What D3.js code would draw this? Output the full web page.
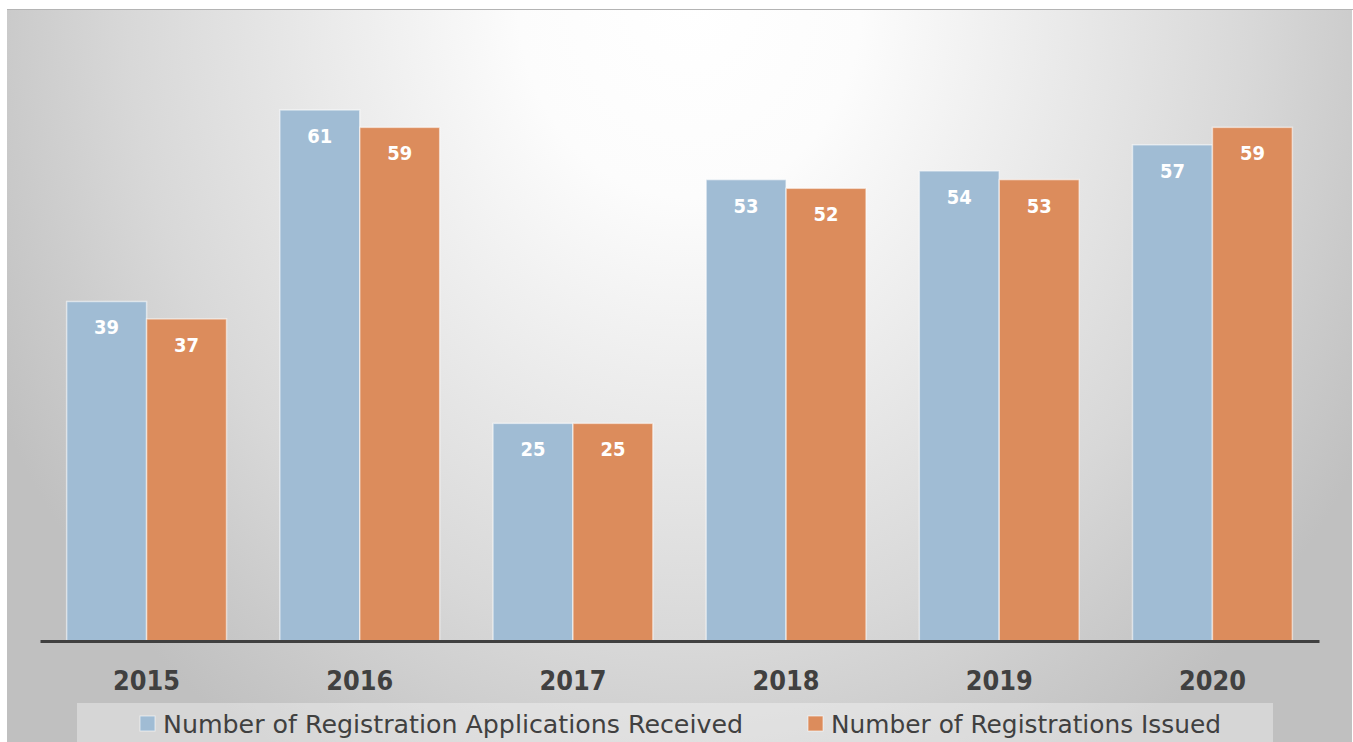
<!DOCTYPE html>
<html lang="en">
<head>
  <meta charset="utf-8">
  <title>Registrations</title>
  <script src="https://cdnjs.cloudflare.com/ajax/libs/d3/7.8.5/d3.min.js"></script>
  <style>
    body { margin: 0; background: #fff; }
    svg { display: block; }
  </style>
</head>
<body>
<div id="ChartArea"></div>
<script>
// data
const years = ["2015", "2016", "2017", "2018", "2019", "2020"];
const received = [39, 61, 25, 53, 54, 57];
const issued = [37, 59, 25, 52, 53, 59];
const seriesNames = ["Number of Registration Applications Received", "Number of Registrations Issued"];
const seriesColors = ["#a0bcd4", "#dc8c5c"];

const W = 1353, H = 742;
const svg = d3.select("#ChartArea").append("svg")
  .attr("width", W).attr("height", H);

// background panel with radial shading, light at the top middle
const defs = svg.append("defs");
const bg = defs.append("radialGradient")
  .attr("id", "bgGrad")
  .attr("gradientUnits", "userSpaceOnUse")
  .attr("cx", 690).attr("cy", 0).attr("r", 780)
  .attr("gradientTransform", "scale(1,1.15)");
[[0, "#ffffff"], [0.22, "#fcfcfc"], [0.5, "#e8e8e8"], [0.72, "#d8d8d8"], [0.88, "#cacaca"], [1, "#c0c0c0"]]
  .forEach(s => bg.append("stop").attr("offset", s[0]).attr("stop-color", s[1]));

svg.append("rect")
  .attr("x", 7).attr("y", 9).attr("width", W - 8).attr("height", H - 9)
  .attr("fill", "url(#bgGrad)");
svg.append("line")
  .attr("x1", 7).attr("x2", W).attr("y1", 9.5).attr("y2", 9.5)
  .attr("stroke", "#b4b4b4").attr("stroke-width", 1);

// scales
const x0 = d3.scaleBand()
  .domain(years)
  .range([40, 1319])
  .paddingInner(0.25)
  .paddingOuter(0.125);
const x1 = d3.scaleBand()
  .domain([0, 1])
  .range([0, x0.bandwidth()]);
const y = d3.scaleLinear()
  .domain([0, 70])
  .range([641, 31.6]);

const rows = years.map((yr, i) => ({ year: yr, vals: [received[i], issued[i]] }));

const groups = svg.selectAll(".grp")
  .data(rows)
  .enter().append("g")
  .attr("class", "grp")
  .attr("transform", d => "translate(" + x0(d.year) + ",0)");

groups.selectAll("rect")
  .data(d => d.vals.map((v, k) => ({ k: k, v: v })))
  .enter().append("rect")
  .attr("x", d => x1(d.k))
  .attr("y", d => y(d.v))
  .attr("width", x1.bandwidth())
  .attr("height", d => y(0) - y(d.v))
  .attr("fill", d => seriesColors[d.k])
  .attr("stroke", "rgba(255,255,255,0.55)")
  .attr("stroke-width", 1.5);

groups.selectAll("text")
  .data(d => d.vals.map((v, k) => ({ k: k, v: v })))
  .enter().append("text")
  .attr("x", d => x1(d.k) + x1.bandwidth() / 2)
  .attr("y", d => y(d.v) + 33)
  .attr("text-anchor", "middle")
  .attr("fill", "#ffffff")
  .attr("font-family", "'DejaVu Sans', sans-serif")
  .attr("font-weight", "bold")
  .attr("font-size", 20)
  .attr("textLength", 25)
  .attr("lengthAdjust", "spacingAndGlyphs")
  .text(d => d.v);

// x axis
const xAxis = svg.append("g")
  .attr("transform", "translate(0," + y(0) + ")")
  .call(d3.axisBottom(x0).tickSize(0).tickPadding(49));
xAxis.select(".domain")
  .attr("stroke", "#404040")
  .attr("stroke-width", 3);
xAxis.selectAll("text")
  .attr("fill", "#404040")
  .attr("font-family", "'DejaVu Sans', sans-serif")
  .attr("font-weight", "bold")
  .attr("font-size", 27)
  .attr("textLength", 67)
  .attr("lengthAdjust", "spacingAndGlyphs")
  .attr("dy", "0");

// legend
svg.append("rect")
  .attr("x", 77).attr("y", 703).attr("width", 1196).attr("height", 39)
  .attr("fill", "rgba(255,255,255,0.35)");

const legendX = [140, 808];
const leg = svg.selectAll(".leg")
  .data(seriesNames)
  .enter().append("g")
  .attr("class", "leg")
  .attr("transform", (d, i) => "translate(" + legendX[i] + ",716)");
leg.append("rect")
  .attr("width", 15).attr("height", 15)
  .attr("fill", (d, i) => seriesColors[i])
  .attr("stroke", "rgba(255,255,255,0.6)");
leg.append("text")
  .attr("x", 23).attr("y", 17)
  .attr("fill", "#404040")
  .attr("font-family", "'DejaVu Sans', sans-serif")
  .attr("font-size", 24)
  .attr("textLength", (d, i) => i === 0 ? 580 : 390)
  .attr("lengthAdjust", "spacingAndGlyphs")
  .text(d => d);
</script>
</body>
</html>
